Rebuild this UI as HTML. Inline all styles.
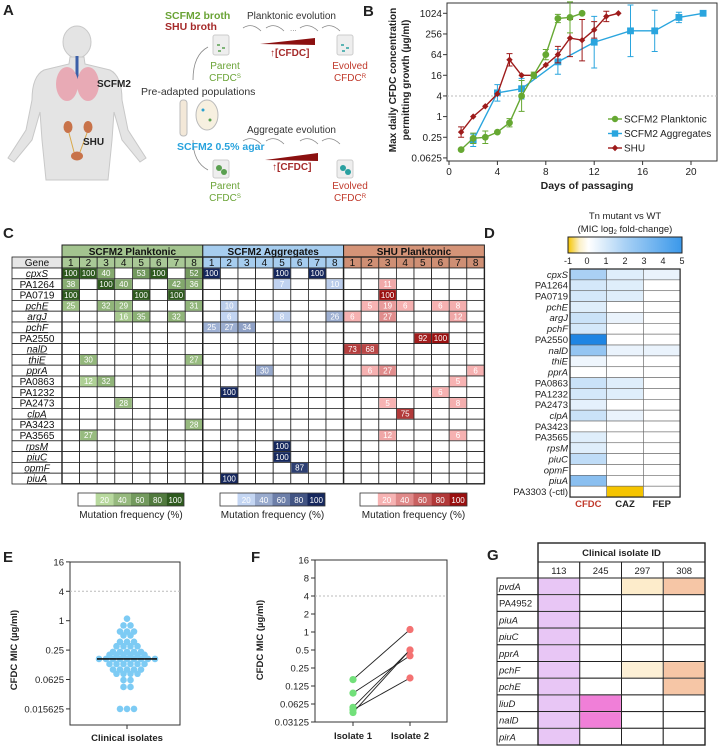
<!DOCTYPE html>
<html><head><meta charset="utf-8">
<style>
html,body{margin:0;padding:0;background:#fff;}
svg{display:block;font-family:"Liberation Sans",Arial,sans-serif;}
</style></head>
<body>
<svg id="fig" width="720" height="749" viewBox="0 0 720 749" xmlns="http://www.w3.org/2000/svg">
<!-- Panel labels -->
<g font-weight="bold" font-size="15" fill="#222">
<text x="3" y="15">A</text>
<text x="363" y="16">B</text>
<text x="3" y="238">C</text>
<text x="484" y="238">D</text>
<text x="3" y="562">E</text>
<text x="251" y="562">F</text>
<text x="487" y="560">G</text>
</g>
<!-- Panel A illustration -->
<g>
<g fill="#e4e4e4" stroke="#c8c8c8" stroke-width="1">
<ellipse cx="77" cy="42" rx="14" ry="16"/>
<path d="M70 57 L84 57 L85 64 L110 70 Q122 76 122 100 L128 130 L146 158 L140 162 L122 140 L114 112 L112 140 L108 180 L46 180 L42 140 L40 112 L32 140 L14 162 L8 158 L26 130 L32 100 Q32 76 44 70 L69 64 Z"/>
</g>
<path d="M77 56 L77 80" stroke="#3b5fa8" stroke-width="3"/>
<ellipse cx="67" cy="84" rx="11" ry="17" fill="#e8aab5"/>
<ellipse cx="88" cy="84" rx="11" ry="17" fill="#e8aab5"/>
<ellipse cx="68" cy="127" rx="4.5" ry="6" fill="#c8734a"/>
<ellipse cx="88" cy="127" rx="4.5" ry="6" fill="#c8734a"/>
<path d="M69 133 L74 152 M87 133 L80 152" stroke="#d9a84a" stroke-width="1" fill="none"/>
<ellipse cx="77" cy="156" rx="6" ry="4.5" fill="#c8734a"/>
<text x="97" y="87" font-size="10" font-weight="bold" fill="#222">SCFM2</text>
<text x="83" y="145" font-size="10" font-weight="bold" fill="#222">SHU</text>
<text x="165" y="19" font-size="10.5" font-weight="bold" fill="#6aa336">SCFM2 broth</text>
<text x="165" y="30" font-size="10.5" font-weight="bold" fill="#a52a2a">SHU broth</text>
<text x="247" y="19" font-size="10" fill="#333">Planktonic evolution</text>
<path d="M243 28 Q252 22 261 31 M266 28 Q275 22 284 31 M300 28 Q309 22 318 31 M322 28 Q331 22 340 31" stroke="#888" fill="none" stroke-width="0.8"/>
<text x="290" y="31" font-size="8" fill="#888">...</text>
<rect x="213" y="35" width="16" height="20" rx="2" fill="#eeeeee" stroke="#ccc"/>
<rect x="337" y="35" width="16" height="20" rx="2" fill="#eeeeee" stroke="#ccc"/>
<path d="M217 45h3M222 48h3M218 51h3" stroke="#5aa050" stroke-width="1.5"/>
<path d="M341 45h3M346 48h3M342 51h3" stroke="#2aa0a0" stroke-width="1.5"/>
<path d="M260 44 L315 38 L315 45 Z" fill="#8b1010"/>
<text x="270" y="56" font-size="10" font-weight="bold" fill="#a52a2a">↑[CFDC]</text>
<text x="225" y="69" font-size="10" fill="#6aa336" text-anchor="middle">Parent</text>
<text x="225" y="81" font-size="10" fill="#6aa336" text-anchor="middle">CFDC<tspan font-size="6" dy="-3">S</tspan></text>
<text x="350" y="69" font-size="10" fill="#c0392b" text-anchor="middle">Evolved</text>
<text x="350" y="81" font-size="10" fill="#c0392b" text-anchor="middle">CFDC<tspan font-size="6" dy="-3">R</tspan></text>
<path d="M193 80 Q193 55 208 47 M193 140 Q193 162 208 170" stroke="#888" fill="none" stroke-width="0.8"/>
<text x="141" y="95" font-size="10.5" fill="#333">Pre-adapted populations</text>
<rect x="180" y="100" width="7" height="36" rx="3" fill="#f3e8d8" stroke="#bbb"/>
<ellipse cx="207" cy="115" rx="11" ry="15" fill="#f7f0e0" stroke="#bbb"/>
<circle cx="203" cy="110" r="1.5" fill="#2aa0d0"/><circle cx="210" cy="120" r="1.5" fill="#5aa050"/>
<text x="247" y="133" font-size="10" fill="#333">Aggregate evolution</text>
<path d="M243 141 Q252 135 261 144 M266 141 Q275 135 284 144 M300 141 Q309 135 318 144 M322 141 Q331 135 340 144" stroke="#888" fill="none" stroke-width="0.8"/>
<text x="177" y="150" font-size="10.5" font-weight="bold" fill="#29a3dd">SCFM2 0.5% agar</text>
<path d="M265 160 L318 153 L318 161 Z" fill="#8b1010"/>
<text x="272" y="170" font-size="10" font-weight="bold" fill="#a52a2a">↑[CFDC]</text>
<rect x="213" y="160" width="16" height="18" rx="2" fill="#eeeeee" stroke="#ccc"/>
<rect x="337" y="160" width="16" height="18" rx="2" fill="#eeeeee" stroke="#ccc"/>
<circle cx="219" cy="168" r="3" fill="#5aa050"/><circle cx="224" cy="172" r="3" fill="#5aa050"/>
<circle cx="343" cy="168" r="3" fill="#2aa0a0"/><circle cx="348" cy="172" r="3" fill="#2aa0a0"/>
<text x="225" y="189" font-size="10" fill="#6aa336" text-anchor="middle">Parent</text>
<text x="225" y="201" font-size="10" fill="#6aa336" text-anchor="middle">CFDC<tspan font-size="6" dy="-3">S</tspan></text>
<text x="350" y="189" font-size="10" fill="#c0392b" text-anchor="middle">Evolved</text>
<text x="350" y="201" font-size="10" fill="#c0392b" text-anchor="middle">CFDC<tspan font-size="6" dy="-3">R</tspan></text>
</g>
<g id="gB"></g>
<g id="gC"></g>
<g id="gD"></g>
<g id="gE"></g>
<g id="gF"></g>
<g id="gG"></g>
</svg>
<script>
// ---- Panel B data (log2 of µg/ml) ----
const planktonicDays = [1,2,3,4,5,6,7,8,9,10,11];
const planktonicLog2 = [-3.2,-2.1,-2.0,-1.5,-0.6,2.0,4.0,6.0,9.5,9.6,10];
const planktonicErr = [0,0.5,0.6,0,0.4,1.5,0.3,0.5,0.4,1.5,0];
const aggregateDays = [2,4,6,9,12,15,17,19,21];
const aggregateLog2 = [-2.3,2.3,2.7,5.3,7.2,8.3,8.3,9.6,10];
const aggregateErr = [0.6,0.8,1.0,1.2,2.5,2.5,2.0,0.5,0.2];
const shuDays = [1,2,3,4,5,6,7,8,9,10,11,12,13,14];
const shuLog2 = [-1.5,0,1,2.2,5.5,4,4,5,6,7.6,7.4,8.4,9.7,10];
const shuErr = [0.5,0,0,0,0.6,0,0,0,0.8,1.8,2.0,0.8,0.5,0];
const bYTicks = ["1024","256","64","16","4","1","0.25","0.0625"];
const bYTickLog2 = [10,8,6,4,2,0,-2,-4];
const bXTicks = [0,4,8,12,16,20];

// ---- Panel C data: [geneRow, column(1-8), frequency] ----
const cGenes = ["cpxS","PA1264","PA0719","pchE","argJ","pchF","PA2550","nalD","thiE","pprA","PA0863","PA1232","PA2473","clpA","PA3423","PA3565","rpsM","piuC","opmF","piuA"];
const italicGenes = ["cpxS","pchE","argJ","pchF","nalD","thiE","pprA","clpA","rpsM","piuC","opmF","piuA","pvdA","liuD","pirA"];
const cGroups = ["SCFM2 Planktonic","SCFM2 Aggregates","SHU Planktonic"];
const planktonicMut = [[0,1,100],[0,2,100],[0,3,40],[0,5,53],[0,6,100],[0,8,52],[1,1,38],[1,3,100],[1,4,40],[1,7,42],[1,8,36],[2,1,100],[2,5,100],[2,7,100],[3,1,25],[3,3,32],[3,4,29],[3,8,31],[4,4,16],[4,5,35],[4,7,32],[8,2,30],[8,8,27],[10,2,12],[10,3,32],[12,4,28],[14,8,28],[15,2,27]];
const aggregateMut = [[0,1,100],[0,5,100],[0,7,100],[1,5,7],[1,8,10],[3,2,10],[4,2,6],[4,5,8],[4,8,26],[5,1,25],[5,2,27],[5,3,34],[9,4,30],[11,2,100],[16,5,100],[17,5,100],[18,6,87],[19,2,100]];
const shuMut = [[1,3,11],[2,3,100],[3,2,5],[3,3,19],[3,4,6],[3,6,6],[3,7,8],[4,1,6],[4,3,27],[4,7,12],[6,5,92],[6,6,100],[7,1,73],[7,2,68],[9,2,6],[9,3,27],[9,8,6],[10,7,5],[11,6,6],[12,3,5],[12,7,8],[13,4,75],[15,3,12],[15,7,6]];
const legendTicks = ["20","40","60","80","100"];

// ---- Panel D data (MIC log2 fold-change) ----
const dGenes = ["cpxS","PA1264","PA0719","pchE","argJ","pchF","PA2550","nalD","thiE","pprA","PA0863","PA1232","PA2473","clpA","PA3423","PA3565","rpsM","piuC","opmF","piuA","PA3303 (-ctl)"];
const dCFDC = [1.6,0.8,0.8,0.6,1.0,0.8,4.2,2.0,0.3,0,1.0,0.8,0.5,1.0,0,0.6,0.6,1.2,0,2.2,0];
const dCAZ = [0.6,0.6,0.6,0,0.4,0,0,0.4,0,0,0.6,0.6,0,0.4,0,0,0,0,0,0,-1];
const dFEP = [0.4,0,0,0,0,0,0,0.4,0,0,0,0,0,0,0,0,0,0,0,0,0];
const dCols = ["CFDC","CAZ","FEP"];
const dTicks = ["-1","0","1","2","3","4","5"];

// ---- Panel E data (MIC µg/ml) ----
const eValues = [1.1,0.8,0.8,0.6,0.6,0.6,0.5,0.5,0.37,0.37,0.37,0.3,0.3,0.3,0.3,0.23,0.23,0.23,0.23,0.23,0.2,0.2,0.2,0.2,0.2,0.2,0.165,0.165,0.165,0.165,0.165,0.165,0.165,0.165,0.165,0.13,0.13,0.13,0.13,0.13,0.13,0.1,0.1,0.1,0.1,0.1,0.082,0.082,0.082,0.082,0.061,0.061,0.044,0.044,0.0156,0.0156,0.0156];
const eMedian = 0.165;
const eTicks = ["16","4","1","0.25","0.0625","0.015625"];
const eTickVals = [16,4,1,0.25,0.0625,0.015625];

// ---- Panel F data ----
const fIsolate1 = [0.16,0.095,0.055,0.05,0.045];
const fIsolate2 = [1.1,0.4,0.5,0.17,0.5];
const fTicks = ["16","8","4","2","1","0.5","0.25","0.125","0.0625","0.03125"];
const fTickVals = [16,8,4,2,1,0.5,0.25,0.125,0.0625,0.03125];

// ---- Panel G data ----
const gIsolates = ["113","245","297","308"];
const gGenes = ["pvdA","PA4952","piuA","piuC","pprA","pchF","pchE","liuD","nalD","pirA"];
const gCells = [[0,0,"#e8c6f5"],[0,2,"#fdeccb"],[0,3,"#f6c6a6"],[1,0,"#e8c6f5"],[2,0,"#e8c6f5"],[3,0,"#e8c6f5"],[4,0,"#e8c6f5"],[5,0,"#e8c6f5"],[5,2,"#fdf0d6"],[5,3,"#f6c6a6"],[6,0,"#e8c6f5"],[6,3,"#f6c6a6"],[7,0,"#e8c6f5"],[7,1,"#f07fd8"],[8,0,"#e8c6f5"],[8,1,"#f07fd8"],[9,0,"#e8c6f5"]];

const NS = "http://www.w3.org/2000/svg";
function mk(parent, tag, a, name, txt){
  const el = document.createElementNS(NS, tag);
  for (const k in a) el.setAttribute(k, a[k]);
  
  
  if (txt !== undefined) el.textContent = txt;
  parent.appendChild(el);
  return el;
}
function lerp(c1,c2,t){t=Math.max(0,Math.min(1,t));const a=[1,3,5].map(i=>parseInt(c1.substr(i,2),16)),b=[1,3,5].map(i=>parseInt(c2.substr(i,2),16));return "rgb("+a.map((v,i)=>Math.round(v+(b[i]-v)*t)).join(",")+")";}

// ===== Panel B =====
(function(){
  const g = document.getElementById('gB');
  const xB = d => 449 + d*12.1;
  const yB = l => 13.3 + (10-l)*10.33;
  mk(g,'rect',{x:447,y:3,width:270,height:158,fill:'none',stroke:'#333','stroke-width':1},'plot-frame');
  mk(g,'line',{x1:447,x2:717,y1:yB(2),y2:yB(2),stroke:'#bbb','stroke-dasharray':'2,2'},'threshold-line');
  bYTicks.forEach((t,i)=>{
    const y=yB(bYTickLog2[i]);
    mk(g,'line',{x1:443,x2:447,y1:y,y2:y,stroke:'#333'},'y-tick');
    mk(g,'text',{x:442,y:y+3.5,'font-size':10,'text-anchor':'end',fill:'#222'},'y-tick-label',t);
  });
  bXTicks.forEach(d=>{
    const x=xB(d);
    mk(g,'line',{x1:x,x2:x,y1:161,y2:165,stroke:'#333'},'x-tick');
    mk(g,'text',{x:x,y:175,'font-size':10,'text-anchor':'middle',fill:'#222'},'x-tick-label',String(d));
  });
  mk(g,'text',{x:587,y:189,'font-size':10.5,'font-weight':'bold','text-anchor':'middle',fill:'#222'},'x-axis-title','Days of passaging');
  const yt = mk(g,'text',{x:0,y:0,'font-size':10,'font-weight':'bold','text-anchor':'middle',fill:'#222',transform:'translate(396,80) rotate(-90)'},'y-axis-title');
  const t1=document.createElementNS(NS,'tspan');t1.setAttribute('x',0);t1.setAttribute('dy',0);t1.textContent='Max daily CFDC concentration';yt.appendChild(t1);
  const t2=document.createElementNS(NS,'tspan');t2.setAttribute('x',0);t2.setAttribute('dy',13);t2.textContent='permitting growth (µg/ml)';yt.appendChild(t2);
  function series(days, vals, errs, color, marker, name){
    const sg = mk(g,'g',{},name);
    mk(sg,'polyline',{points:days.map((d,i)=>xB(d)+','+yB(vals[i])).join(' '),fill:'none',stroke:color,'stroke-width':1.4},name+'-line');
    days.forEach((d,i)=>{
      const x=xB(d),y=yB(vals[i]),e=errs[i];
      if(e>0){
        mk(sg,'path',{d:`M${x} ${yB(vals[i]+e)}V${yB(vals[i]-e)}M${x-3} ${yB(vals[i]+e)}h6M${x-3} ${yB(vals[i]-e)}h6`,stroke:color,'stroke-width':1,fill:'none'},name+'-error-bar');
      }
      if(marker==='c') mk(sg,'circle',{cx:x,cy:y,r:3.4,fill:color},name+'-point');
      else if(marker==='s') mk(sg,'rect',{x:x-3.4,y:y-3.4,width:6.8,height:6.8,fill:color},name+'-point');
      else mk(sg,'path',{d:`M${x} ${y-3.2}L${x+3.2} ${y}L${x} ${y+3.2}L${x-3.2} ${y}Z`,fill:color},name+'-point');
    });
  }
  series(aggregateDays,aggregateLog2,aggregateErr,'#2aa5de','s','scfm2-aggregates');
  series(shuDays,shuLog2,shuErr,'#9e1b1b','d','shu');
  series(planktonicDays,planktonicLog2,planktonicErr,'#66a832','c','scfm2-planktonic');
  const leg=[['SCFM2 Planktonic','#66a832','c'],['SCFM2 Aggregates','#2aa5de','s'],['SHU','#9e1b1b','d']];
  leg.forEach((l,i)=>{
    const y=119+i*14.5, x=615;
    const lg=mk(g,'g',{},'legend-entry');
    mk(lg,'line',{x1:x-7,x2:x+7,y1:y,y2:y,stroke:l[1],'stroke-width':1.4},'legend-line');
    if(l[2]==='c') mk(lg,'circle',{cx:x,cy:y,r:3.2,fill:l[1]},'legend-marker');
    else if(l[2]==='s') mk(lg,'rect',{x:x-3.2,y:y-3.2,width:6.4,height:6.4,fill:l[1]},'legend-marker');
    else mk(lg,'path',{d:`M${x} ${y-3.2}L${x+3.2} ${y}L${x} ${y+3.2}L${x-3.2} ${y}Z`,fill:l[1]},'legend-marker');
    mk(lg,'text',{x:x+9,y:y+3.5,'font-size':10,fill:'#222'},'legend-label',l[0]);
  });
})();

// ===== Panel C =====
(function(){
  const g=document.getElementById('gC');
  const x0=62, cw=17.6, rh=10.8, yHead=245, yNum=257, yRow=268;
  const headCol=['#a3c48f','#a6cdef','#d59478'];
  const numCol=['#a9c996','#a6cdef','#cf8f74'];
  const lo=['#b8d99e','#c4d6f3','#f7b3b3'], hi=['#2e5a1e','#16285e','#9a0f0f'];
  const data=[planktonicMut,aggregateMut,shuMut];
  mk(g,'rect',{x:12,y:yNum,width:50,height:rh+0.2,fill:'#e6e6e6',stroke:'#222','stroke-width':0.8},'gene-header-cell');
  mk(g,'text',{x:37,y:yNum+9,'font-size':10,'text-anchor':'middle',fill:'#111'},'gene-header','Gene');
  cGenes.forEach((gn,r)=>{
    const y=yRow+r*rh;
    mk(g,'rect',{x:12,y:y,width:50,height:rh,fill:'#fff',stroke:'#222','stroke-width':0.8},'gene-cell');
    const t=mk(g,'text',{x:37,y:y+9,'font-size':10,'text-anchor':'middle',fill:'#111'},'gene-label',gn);
    if(italicGenes.includes(gn)){t.setAttribute('font-style','italic');t.setAttribute('text-decoration','underline');}
  });
  cGroups.forEach((grp,gi)=>{
    const gx=x0+gi*cw*8;
    mk(g,'rect',{x:gx,y:yHead,width:cw*8,height:12,fill:headCol[gi],stroke:'#222','stroke-width':1},'group-header');
    mk(g,'text',{x:gx+cw*4,y:yHead+10,'font-size':10,'font-weight':'bold','text-anchor':'middle',fill:'#111'},'group-header-label',grp);
    for(let c=0;c<8;c++){
      mk(g,'rect',{x:gx+c*cw,y:yNum,width:cw,height:rh+0.2,fill:numCol[gi],stroke:'#222','stroke-width':0.8},'replicate-header');
      mk(g,'text',{x:gx+c*cw+cw/2,y:yNum+9,'font-size':10,'text-anchor':'middle',fill:'#111'},'replicate-label',String(c+1));
      for(let r=0;r<cGenes.length;r++){
        mk(g,'rect',{x:gx+c*cw,y:yRow+r*rh,width:cw,height:rh,fill:'#fff',stroke:'#222','stroke-width':0.8},'empty-cell');
      }
    }
    data[gi].forEach(d=>{
      const x=gx+(d[1]-1)*cw, y=yRow+d[0]*rh;
      mk(g,'rect',{x:x+0.5,y:y+0.5,width:cw-1,height:rh-1,fill:lerp(lo[gi],hi[gi],(d[2]-5)/95)},'mutation-cell');
      mk(g,'text',{x:x+cw/2,y:y+8.2,'font-size':8,'text-anchor':'middle',fill:'#fff'},'mutation-value',String(d[2]));
    });
    mk(g,'rect',{x:gx,y:yNum,width:cw*8,height:rh+cGenes.length*rh,fill:'none',stroke:'#222','stroke-width':1.4},'group-border');
    const lx=[78,220,360][gi], lw=[106,105,107][gi], ly=493, sw=lw/6;
    mk(g,'rect',{x:lx,y:ly,width:sw,height:13,fill:'#fff'},'legend-swatch');
    legendTicks.forEach((t,i)=>{
      mk(g,'rect',{x:lx+sw*(i+1),y:ly,width:sw,height:13,fill:lerp(lo[gi],hi[gi],i/4)},'legend-swatch');
      mk(g,'text',{x:lx+sw*(i+1.5),y:ly+10,'font-size':8,'text-anchor':'middle',fill:'#fff'},'legend-tick',t);
    });
    mk(g,'rect',{x:lx,y:ly,width:lw,height:13,fill:'none',stroke:'#333','stroke-width':0.8},'legend-border');
    mk(g,'text',{x:lx+lw/2,y:ly+25,'font-size':10,'text-anchor':'middle',fill:'#222'},'legend-title','Mutation frequency (%)');
  });
})();

// ===== Panel D =====
(function(){
  const g=document.getElementById('gD');
  const x0=570, cw=36.7, y0=269, rh=10.86;
  const col=v=> v<0 ? lerp('#ffffff','#f5c400',-v) : lerp('#ffffff','#1a82e2',v/4.3);
  mk(g,'text',{x:625,y:219,'font-size':9.5,'text-anchor':'middle',fill:'#222'},'colorbar-title','Tn mutant vs WT');
  const tt=mk(g,'text',{x:625,y:232,'font-size':9.5,'text-anchor':'middle',fill:'#222'},'colorbar-subtitle');
  tt.innerHTML='(MIC log<tspan font-size="6" dy="2">2</tspan><tspan dy="-2"> fold-change)</tspan>';
  const defs=mk(g,'defs',{},'defs');
  const lg=mk(defs,'linearGradient',{id:'cbar',x1:0,x2:1,y1:0,y2:0},'colorbar-gradient');
  [[0,'#f5c400'],[0.1,'#fbf0c8'],[0.18,'#ffffff'],[0.5,'#a9d1f5'],[1,'#3a98ea']].forEach(s=>mk(lg,'stop',{offset:s[0],'stop-color':s[1]},'gradient-stop'));
  mk(g,'rect',{x:568,y:237,width:114,height:16,fill:'url(#cbar)',stroke:'#222','stroke-width':1},'colorbar');
  dTicks.forEach((t,i)=>mk(g,'text',{x:568+i*19,y:264,'font-size':9,'text-anchor':'middle',fill:'#222'},'colorbar-tick',t));
  const cols=[dCFDC,dCAZ,dFEP];
  dGenes.forEach((gn,r)=>{
    const y=y0+r*rh;
    const t=mk(g,'text',{x:568,y:y+8.8,'font-size':9.5,'text-anchor':'end',fill:'#222'},'heatmap-row-label',gn);
    if(italicGenes.includes(gn)) t.setAttribute('font-style','italic');
    cols.forEach((arr,c)=>mk(g,'rect',{x:x0+c*cw,y:y,width:cw,height:rh,fill:col(arr[r]),stroke:'#666','stroke-width':0.6},'heatmap-cell'));
  });
  mk(g,'rect',{x:x0,y:y0,width:cw*3,height:rh*dGenes.length,fill:'none',stroke:'#222','stroke-width':1.2},'heatmap-border');
  dCols.forEach((c,i)=>mk(g,'text',{x:x0+cw*i+cw/2,y:507,'font-size':9.5,'font-weight':'bold','text-anchor':'middle',fill:i===0?'#c0392b':'#222'},'heatmap-column-label',c));
})();

// ===== Panel E =====
(function(){
  const g=document.getElementById('gE');
  const yE=v=>620.7-Math.log2(v)*14.7;
  mk(g,'path',{d:'M70 562H180V725H70Z',fill:'none',stroke:'#333','stroke-width':1},'plot-frame');
  mk(g,'line',{x1:70,x2:180,y1:yE(4),y2:yE(4),stroke:'#bbb','stroke-dasharray':'2,2'},'reference-line');
  eTicks.forEach((t,i)=>{
    const y=yE(eTickVals[i]);
    mk(g,'line',{x1:66,x2:70,y1:y,y2:y,stroke:'#333'},'y-tick');
    mk(g,'text',{x:64,y:y+3.5,'font-size':9.5,'text-anchor':'end',fill:'#222'},'y-tick-label',t);
  });
  mk(g,'line',{x1:127,x2:127,y1:725,y2:729,stroke:'#333'},'x-tick');
  mk(g,'text',{x:127,y:741,'font-size':9.5,'font-weight':'bold','text-anchor':'middle',fill:'#222'},'x-tick-label','Clinical isolates');
  mk(g,'text',{x:0,y:0,'font-size':9.5,'font-weight':'bold','text-anchor':'middle',fill:'#222',transform:'translate(17,650) rotate(-90)'},'y-axis-title','CFDC MIC (µg/ml)');
  const groups={};
  eValues.forEach(v=>{(groups[v]=groups[v]||[]).push(v);});
  Object.keys(groups).forEach(k=>{
    const n=groups[k].length;
    groups[k].forEach((v,i)=>mk(g,'circle',{cx:127+(i-(n-1)/2)*7,cy:yE(v),r:3.3,fill:'#7dcbf4'},'isolate-point'));
  });
  mk(g,'line',{x1:97,x2:157,y1:yE(eMedian),y2:yE(eMedian),stroke:'#111','stroke-width':1.6},'median-line');
})();

// ===== Panel F =====
(function(){
  const g=document.getElementById('gF');
  const yF=v=>632-Math.log2(v)*18;
  const x1=353,x2=410;
  mk(g,'path',{d:'M315 560H447V722H315Z',fill:'none',stroke:'#333','stroke-width':1},'plot-frame');
  mk(g,'line',{x1:315,x2:447,y1:yF(4),y2:yF(4),stroke:'#bbb','stroke-dasharray':'2,2'},'reference-line');
  fTicks.forEach((t,i)=>{
    const y=yF(fTickVals[i]);
    mk(g,'line',{x1:311,x2:315,y1:y,y2:y,stroke:'#333'},'y-tick');
    mk(g,'text',{x:309,y:y+3.5,'font-size':9.5,'text-anchor':'end',fill:'#222'},'y-tick-label',t);
  });
  [[x1,'Isolate 1'],[x2,'Isolate 2']].forEach(a=>{
    mk(g,'line',{x1:a[0],x2:a[0],y1:722,y2:726,stroke:'#333'},'x-tick');
    mk(g,'text',{x:a[0],y:739,'font-size':9.5,'font-weight':'bold','text-anchor':'middle',fill:'#222'},'x-tick-label',a[1]);
  });
  mk(g,'text',{x:0,y:0,'font-size':9.5,'font-weight':'bold','text-anchor':'middle',fill:'#222',transform:'translate(263,640) rotate(-90)'},'y-axis-title','CFDC MIC (µg/ml)');
  fIsolate1.forEach((v,i)=>mk(g,'line',{x1:x1,y1:yF(v),x2:x2,y2:yF(fIsolate2[i]),stroke:'#222','stroke-width':0.9},'pair-line'));
  fIsolate1.forEach(v=>mk(g,'circle',{cx:x1,cy:yF(v),r:3.6,fill:'#72e07a'},'isolate1-point'));
  fIsolate2.forEach(v=>mk(g,'circle',{cx:x2,cy:yF(v),r:3.6,fill:'#f47272'},'isolate2-point'));
})();

// ===== Panel G =====
(function(){
  const g=document.getElementById('gG');
  const x0=538, cw=41.75, lx=497, rh=16.7, yT=543, yId=562, yR=578;
  mk(g,'rect',{x:x0,y:yT,width:cw*4,height:19,fill:'#fff',stroke:'#222','stroke-width':1},'isolate-header');
  mk(g,'text',{x:x0+cw*2,y:yT+13,'font-size':9.5,'font-weight':'bold','text-anchor':'middle',fill:'#222'},'isolate-header-label','Clinical isolate ID');
  gIsolates.forEach((id,c)=>{
    mk(g,'rect',{x:x0+c*cw,y:yId,width:cw,height:yR-yId,fill:'#fff',stroke:'#222','stroke-width':1},'isolate-id-cell');
    mk(g,'text',{x:x0+c*cw+cw/2,y:yId+12,'font-size':9.5,'text-anchor':'middle',fill:'#222'},'isolate-id',id);
  });
  gGenes.forEach((gn,r)=>{
    const y=yR+r*rh;
    mk(g,'rect',{x:lx,y:y,width:x0-lx,height:rh,fill:'#fff',stroke:'#222','stroke-width':1},'gene-cell');
    const t=mk(g,'text',{x:lx+2,y:y+12,'font-size':9.5,fill:'#222'},'gene-label',gn);
    if(italicGenes.includes(gn)) t.setAttribute('font-style','italic');
    for(let c=0;c<4;c++) mk(g,'rect',{x:x0+c*cw,y:y,width:cw,height:rh,fill:'#fff',stroke:'#222','stroke-width':1},'empty-cell');
  });
  gCells.forEach(d=>mk(g,'rect',{x:x0+d[1]*cw+0.6,y:yR+d[0]*rh+0.6,width:cw-1.2,height:rh-1.2,fill:d[2]},'mutation-cell'));
  mk(g,'rect',{x:x0,y:yT,width:cw*4,height:yR+rh*gGenes.length-yT,fill:'none',stroke:'#222','stroke-width':1.4},'table-border');
})();
</script>
</body></html>
